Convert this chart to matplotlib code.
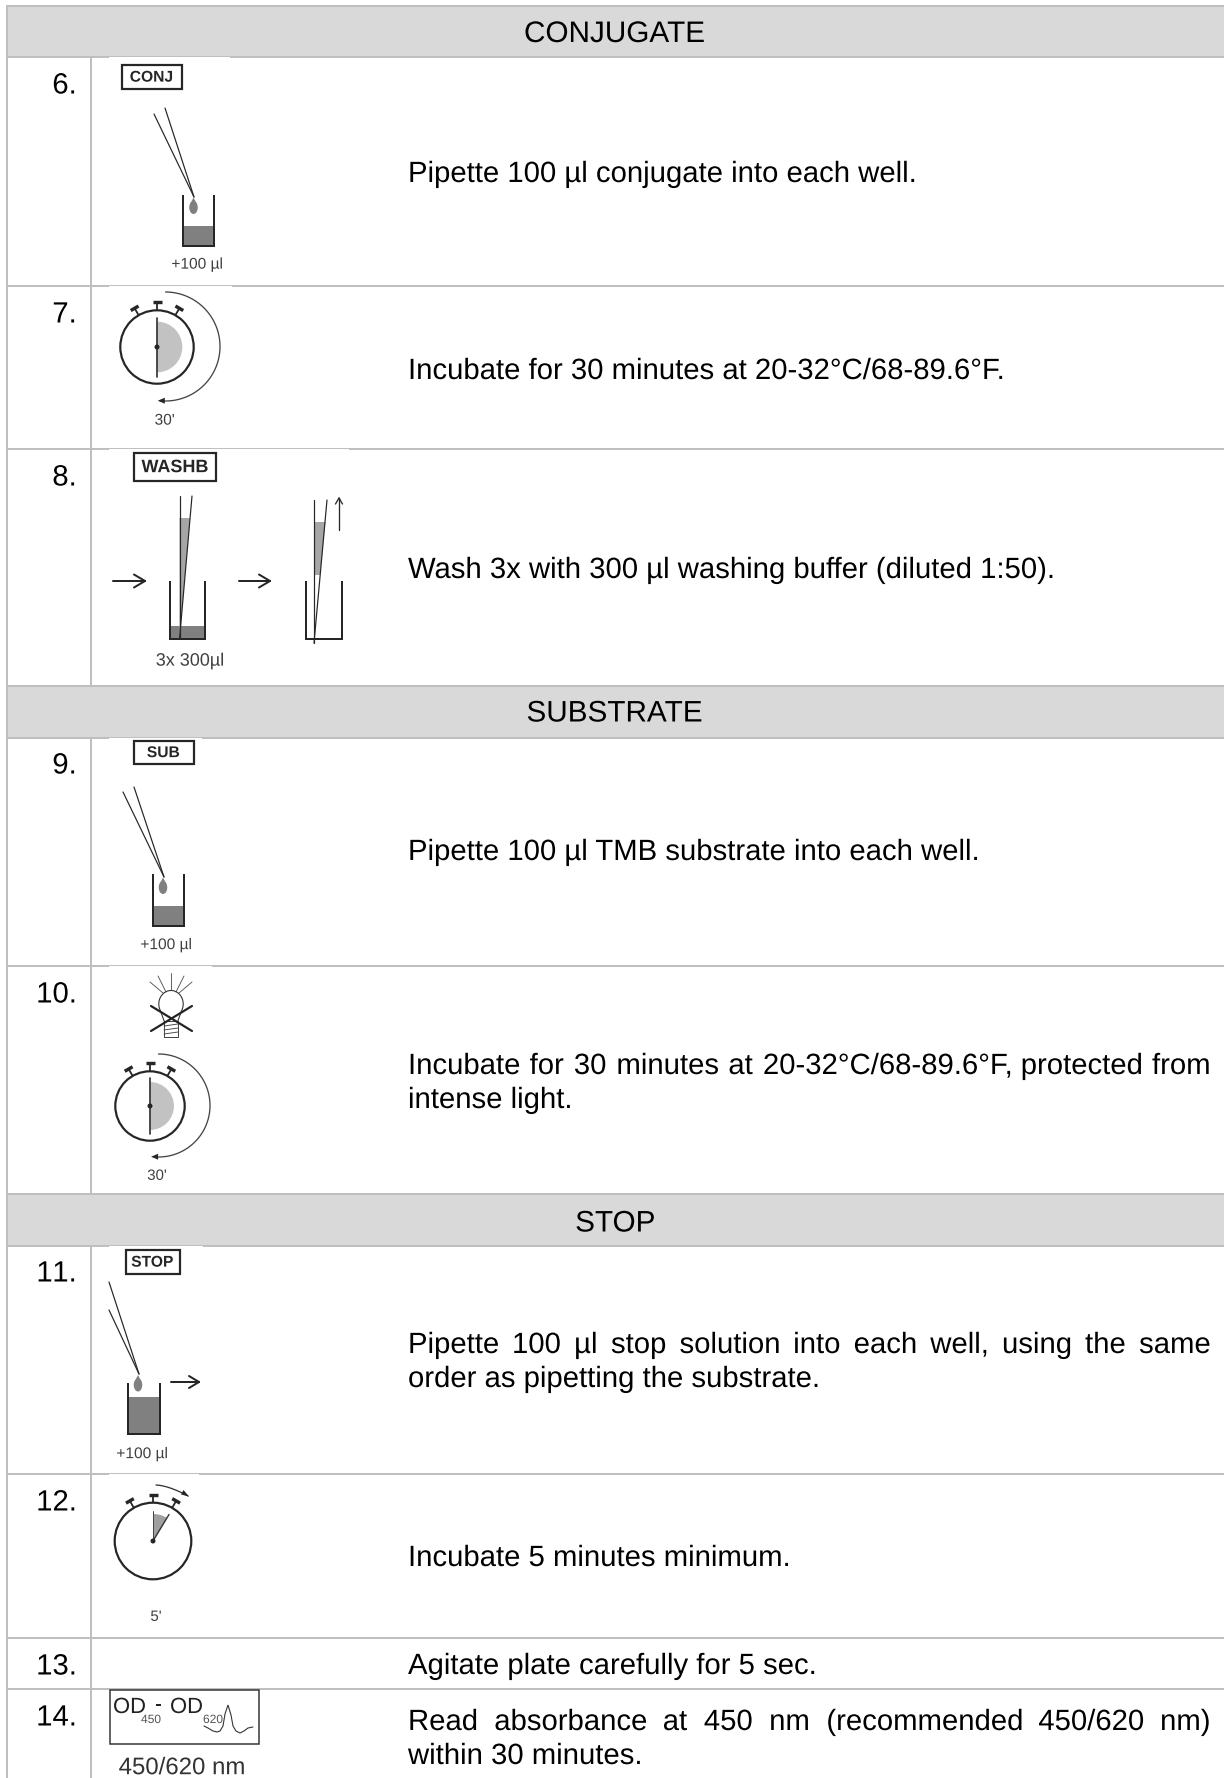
import numpy as np
import matplotlib
matplotlib.use("Agg")
import matplotlib.pyplot as plt
import matplotlib.patheffects as pe
from matplotlib.patches import Rectangle, Circle, Ellipse, Wedge, Polygon

plt.rcParams['font.family'] = ['Liberation Sans', 'DejaVu Sans']
plt.rcParams['text.hinting'] = 'no_hinting'
plt.rcParams['text.hinting_factor'] = 1

# ---- content ----
section_titles = ["CONJUGATE", "SUBSTRATE", "STOP"]
section_bands = [(6, 57), (686, 738), (1194, 1246)]
section_baselines = [42, 721.5, 1231.5]
step_numbers = ["6.", "7.", "8.", "9.", "10.", "11.", "12.", "13.", "14."]
step_baselines = [93.5, 322.5, 485.5, 773.5, 1002.5, 1281.5, 1510.5, 1674.5, 1725.5]
row_lines = [286, 449, 966, 1474, 1638, 1689]
# (text, baseline, justified)
step_lines = [
    ("Pipette 100 µl conjugate into each well.", 182, False),
    ("Incubate for 30 minutes at 20-32°C/68-89.6°F.", 379, False),
    ("Wash 3x with 300 µl washing buffer (diluted 1:50).", 578, False),
    ("Pipette 100 µl TMB substrate into each well.", 860, False),
    ("Incubate for 30 minutes at 20-32°C/68-89.6°F, protected from", 1074, True),
    ("intense light.", 1108, False),
    ("Pipette 100 µl stop solution into each well, using the same", 1353, True),
    ("order as pipetting the substrate.", 1387, False),
    ("Incubate 5 minutes minimum.", 1566, False),
    ("Agitate plate carefully for 5 sec.", 1674, False),
    ("Read absorbance at 450 nm (recommended 450/620 nm)", 1730, True),
    ("within 30 minutes.", 1764, False),
]
image_notches = [(57, 230), (286, 232), (449, 349), (738, 202), (966, 212), (1246, 203), (1474, 199)]
reagent_boxes = [("CONJ", 122, 182, 65, 89, 15.6), ("WASHB", 134, 216, 453, 481, 18),
                 ("SUB", 133.5, 194, 741, 764, 15.6), ("STOP", 126, 180, 1250, 1274, 15.6)]

W, H = 1224, 1778
GRID = "#bfbfbf"; BAND = "#d9d9d9"; INK = "#262626"; LIQ = "#808080"; LABEL = "#404040"
TEXT_PX = 29.3
px = 0.72  # points per pixel at dpi 100

fig = plt.figure(figsize=(W/100, H/100), dpi=100)
ax = fig.add_axes([0, 0, 1, 1])
ax.set_xlim(0, W); ax.set_ylim(H, 0); ax.axis("off")
renderer = fig.canvas.get_renderer()

def line(xs, ys, w=1.3, c=INK, z=5, cap="round"):
    ax.plot(xs, ys, color=c, lw=w*px, zorder=z, solid_capstyle=cap, solid_joinstyle="miter")

def txt(x, y, s, size, ha="center", va="center", c="black", weight="normal", z=6):
    # drawn through a path effect so glyphs sit at exact sub-pixel positions on one baseline
    return ax.text(x, y, s, fontsize=size*px, ha=ha, va=va, color=c, fontweight=weight, zorder=z,
                   path_effects=[pe.Normal()])

# ---- table ----
for (a, b) in section_bands:
    ax.add_patch(Rectangle((7, a), W-7, b-a, fc=BAND, ec="none", zorder=1))
    line([7, W], [a, a], 2, GRID, 2, "butt"); line([7, W], [b, b], 2, GRID, 2, "butt")
for y in row_lines:
    line([7, W], [y, y], 2, GRID, 2, "butt")
line([7, 7], [5, H], 2, GRID, 2, "butt")
for (a, b) in [(57, 686), (738, 1194), (1246, H)]:
    line([91, 91], [a, b], 2, GRID, 2, "butt")
for y, xr in image_notches:
    ax.add_patch(Rectangle((109, y), xr-109, 1.2, fc="white", ec="none", zorder=3))

for s, bl, (a, b) in zip(section_titles, section_baselines, section_bands):
    txt(615.5, bl, s, 29.7, va="baseline")
for s, bl in zip(step_numbers, step_baselines):
    if s == "11.":  # the two ones stand apart, without pair kerning
        txt(76.5, bl, "1.", TEXT_PX, ha="right", va="baseline")
        txt(76.5 - 24, bl, "1", TEXT_PX, ha="right", va="baseline")
    else:
        txt(76.5, bl, s, TEXT_PX, ha="right", va="baseline")

def width(s):
    t = ax.text(0, 0, s, fontsize=TEXT_PX*px)
    e = t.get_window_extent(renderer).width
    t.remove()
    return e

for s, bl, just in step_lines:
    if not just:
        txt(408, bl, s, TEXT_PX, ha="left", va="baseline")
    else:
        words = s.split(" ")
        ws = [width(w) for w in words]
        gap = (1210 - 408 - sum(ws)) / (len(words)-1)
        x = 408
        for w, wd in zip(words, ws):
            txt(x, bl, w, TEXT_PX, ha="left", va="baseline")
            x += wd + gap

# ---- icons ----
for s, x0, x1, y0, y1, fs in reagent_boxes:
    ax.add_patch(Rectangle((x0, y0), x1-x0, y1-y0, fc="white", ec=INK, lw=2.2*px, zorder=5))
    txt((x0+x1)/2, (y0+y1)/2+0.5, s, fs, c=INK, weight="bold")

def well(l, r, t, b, liq):
    ax.add_patch(Rectangle((l, liq), r-l, b-liq, fc=LIQ, ec="none", zorder=4))
    line([l, l, r, r], [t, b, b, t], 2, INK, 5, "butt")

def drop(x, y):
    ax.add_patch(Ellipse((x, y), 8.5, 13, fc=LIQ, ec="none", zorder=4))
    ax.add_patch(Polygon([[x-3.6, y-3], [x+3.6, y-3], [x, y-10]], fc=LIQ, ec="none", zorder=4))

def open_arrow(x0, y0, x1, y1, hb=11, hw=6.5, w=2):
    d = np.array([x1-x0, y1-y0], float); d /= np.hypot(*d); n = np.array([-d[1], d[0]])
    line([x0, x1], [y0, y1], w)
    tip = np.array([x1, y1])
    for sgn in (1, -1):
        p = tip - d*hb + sgn*n*hw
        line([p[0], x1], [p[1], y1], w)

def pipette(p1, p2, tip):
    line([p1[0], tip[0]], [p1[1], tip[1]], 1.2)
    line([p2[0], tip[0]], [p2[1], tip[1]], 1.2)

def stopwatch(cx, cy, r, lw=2.2):
    ax.add_patch(Circle((cx, cy), r, fc="none", ec=INK, lw=lw*px, zorder=5))
    for ang in (-30, 0, 30):
        a = np.radians(ang)
        u = np.array([np.sin(a), -np.cos(a)]); v = np.array([np.cos(a), np.sin(a)])
        c = np.array([cx, cy])
        p0, p1 = c + u*r, c + u*(r+8)
        line([p0[0], p1[0]], [p0[1], p1[1]], 1.8, INK, 5, "butt")
        q0, q1 = p1 - v*4.5, p1 + v*4.5
        line([q0[0], q1[0]], [q0[1], q1[1]], 3.4, INK, 5, "butt")
    ax.add_patch(Circle((cx, cy), 2.5, fc=INK, ec="none", zorder=6))

def half_face(cx, cy, r, top, bot):
    stopwatch(cx, cy, r)
    ax.add_patch(Wedge((cx, cy), r*0.69, -90, 90, fc="#c2c2c2", ec="none", zorder=4))
    line([cx, cx], [top, bot], 1.7, "#333333")

def sweep(cx, cy, r, end_deg):
    t = np.radians(np.linspace(-90, end_deg, 80))
    xs, ys = cx + r*np.cos(t), cy + r*np.sin(t)
    line(xs, ys, 1.3, "#444444")
    ex, ey = xs[-1], ys[-1]
    ax.add_patch(Polygon([[ex-2, ey], [ex+5, ey-3], [ex+5, ey+3]], fc=INK, ec="none", zorder=5))

# Step 6
pipette((154, 114), (165, 108), (194, 197))
drop(193.5, 207.5)
well(183, 214, 195, 246, 226)
txt(198, 264.5, "+100 µl", 15.5, c=LABEL)

# Step 7
half_face(157, 347, 36.7, 318, 377)
sweep(165.5, 346.5, 54.5, 96)
txt(165, 420.5, "30'", 15.5, c=LABEL)

# Step 8
open_arrow(113, 581, 145, 581)
open_arrow(239, 581, 270, 581)
well(170, 205, 581, 639, 626)
ax.add_patch(Polygon([[179.5, 518], [190, 518], [179.5, 639]], fc="#a6a6a6", ec="none", zorder=4))
pipette((179.5, 496), (192, 496), (179.5, 639))
well(306, 342, 581, 639, 639)
ax.add_patch(Polygon([[314, 522], [325.5, 522], [320, 575], [314, 575]], fc="#a6a6a6", ec="none", zorder=4))
pipette((314, 500), (327, 500), (314, 643))
open_arrow(339, 530, 339, 498, hb=6, hw=3.5, w=1.3)
txt(190, 661, "3x 300µl", 18, c=LABEL)

# Step 9
pipette((123, 792), (134, 787), (164, 877))
drop(163, 887.5)
well(153, 184, 874, 926, 906)
txt(167, 945, "+100 µl", 15.5, c=LABEL)

# Step 10
for (x0, y0, x1, y1) in [(171, 973, 171, 990), (158, 976, 166, 992), (184, 976, 176, 992),
                         (150, 982, 163, 993), (192, 982, 179, 993)]:
    line([x0, x1], [y0, y1], 0.9, "#555555")
t = np.radians(np.linspace(150, 390, 50))
bx = np.r_[164.5, 171 + 12.2*np.cos(t), 177.5]
by = np.r_[1022, 1004 + 13.5*np.sin(t), 1022]
line(bx, by, 1.1, "#333333")
ax.add_patch(Rectangle((164, 1021), 14, 16, fc="white", ec="#444444", lw=1*px, zorder=4))
for yy in (1025, 1029, 1033):
    line([164, 178], [yy+1, yy-1], 0.9, "#444444")
line([151, 192], [1006, 1031], 2.2, "#222222")
line([151, 192], [1031, 1006], 2.2, "#222222")
half_face(150, 1106, 34.7, 1078, 1134)
sweep(158.5, 1105.5, 51.5, 96)
txt(157, 1176, "30'", 15, c=LABEL)

# Step 11
pipette((109, 1282), (109, 1310), (139, 1374))
drop(138, 1385)
well(128, 160, 1383, 1434, 1397)
open_arrow(171, 1382, 199, 1382, hb=10, hw=6)
txt(143, 1454, "+100 µl", 15.5, c=LABEL)

# Step 12
stopwatch(153, 1541, 38.3)
a0 = -90; a1 = np.degrees(np.arctan2(1514.5-1541, 169-153))
ax.add_patch(Wedge((153, 1541), 27, a0, a1, fc="#a0a0a0", ec="none", zorder=4))
line([153, 153], [1541, 1511], 1.0, "#444444")
line([153, 169], [1541, 1514.5], 1.4, "#333333")
t = np.linspace(0, 1, 20)
ax_x = 156 + 32*t
ax_y = 1485 + 11*t**1.6
line(ax_x, ax_y, 1.3, "#333333")
ax.add_patch(Polygon([[189, 1496.5], [181, 1494.5], [183.5, 1490]], fc=INK, ec="none", zorder=5))
txt(156, 1617, "5'", 15, c=LABEL)

# Step 14
ax.add_patch(Rectangle((110, 1690), 149, 54, fc="white", ec="#333333", lw=1.5*px, zorder=4))
txt(113, 1713, "OD", 22, ha="left", va="baseline", c="#222222")
txt(141, 1723, "450", 12, ha="left", va="baseline", c="#555555")
txt(155, 1711, "-", 22, ha="left", va="baseline", c="#222222")
txt(170, 1713, "OD", 22, ha="left", va="baseline", c="#222222")
txt(203, 1723, "620", 12, ha="left", va="baseline", c="#555555")
wave_x = [204, 208, 213, 217, 220, 223, 225, 228, 231, 233, 236, 240, 244, 248, 253]
wave_y = [1726, 1728, 1731, 1732, 1731, 1726, 1714, 1705, 1715, 1726, 1731, 1733, 1731, 1728, 1727]
line(wave_x, wave_y, 1.1, "#333333")
txt(182, 1768, "450/620 nm", 24, c="#333333")

fig.savefig("out.png", dpi=100)
